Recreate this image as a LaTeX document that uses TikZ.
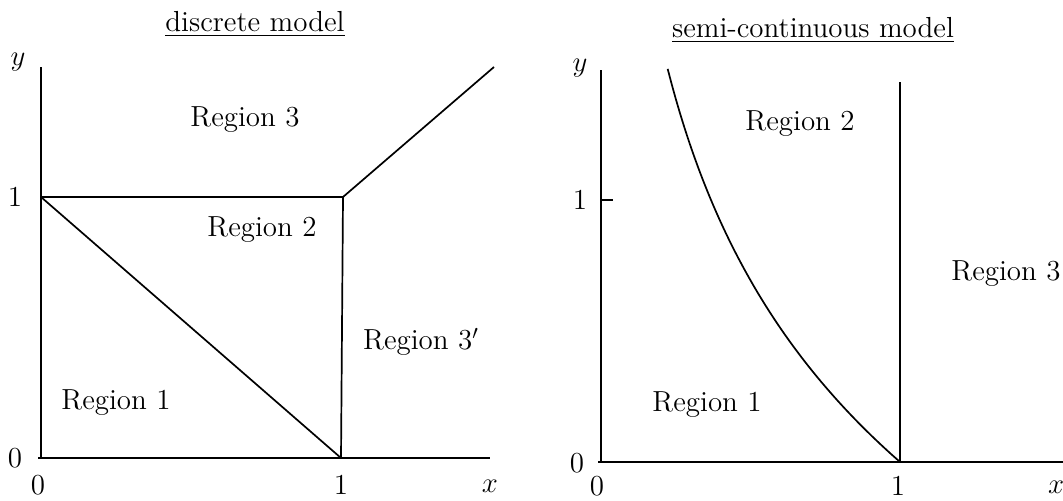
\documentclass[tikz,border=0pt]{standalone}
\usepackage{tikz}
\usetikzlibrary{positioning}
\tikzset{
  regionlbl/.style = {font=\fontsize{14.5}{17}\selectfont, inner sep=1pt},
  ticklbl/.style   = {font=\fontsize{14.5}{17}\selectfont, inner sep=1pt},
  titlelbl/.style  = {font=\fontsize{14.5}{17}\selectfont, inner sep=1pt},
  axisline/.style  = {draw=black, line width=1pt},
  boundary/.style  = {draw=black, line width=0.85pt},
}
\begin{document}
\begin{tikzpicture}[x=0.5pt,y=-0.5pt]
  \useasboundingbox (0,0) rectangle (1063,501);

  % discrete model
  \coordinate (dO)   at (41,458);
  \coordinate (dYt)  at (41,67);
  \coordinate (dXl)  at (38,458);
  \coordinate (dXr)  at (490,458);
  \coordinate (dA)   at (41,197);
  \coordinate (dB)   at (343,197);
  \coordinate (dC)   at (341,458);
  \coordinate (dD)   at (494,67);
  \draw[axisline] (dO) -- (dYt);
  \draw[axisline] (dXl) -- (dXr);
  \draw[boundary] (dA) -- (dB) -- (dC);
  \draw[boundary] (dA) -- (dC);
  \draw[boundary] (dB) -- (dD);

  \node[titlelbl] (dtitle) at (255,24) {\underline{discrete model}};
  \node[ticklbl] (dy)   at (18,62)  {$y$};
  \node[ticklbl] (dy1)  at (15,197) {1};
  \node[ticklbl] (dy0)  at (15,458) {0};
  \node[ticklbl] (dx0)  at (38,485) {0};
  \node[ticklbl] (dx1)  at (341,485) {1};
  \node[ticklbl] (dx)   at (490,486) {$x$};
  \node[regionlbl] (dr3)  at (245,120) {Region 3};
  \node[regionlbl] (dr2)  at (262,230) {Region 2};
  \node[regionlbl] (dr3p) at (421,342) {Region 3$'$};
  \node[regionlbl] (dr1)  at (116,403) {Region 1};

  % semi-continuous model
  \coordinate (sO)   at (601,462);
  \coordinate (sYt)  at (601,70);
  \coordinate (sXl)  at (598,462);
  \coordinate (sXr)  at (1063,462);
  \coordinate (sT)   at (613,200);
  \coordinate (sY1)  at (601,200);
  \coordinate (sVt)  at (900,82);
  \coordinate (sVb)  at (900,462);
  \draw[axisline] (sO) -- (sYt);
  \draw[axisline] (sXl) -- (sXr);
  \draw[axisline] (sY1) -- (sT);
  \draw[boundary] (sVb) -- (sVt);
  \draw[boundary] plot[domain=0.223:1, samples=60, smooth] ({601+299*\x},{462+262*ln(\x)});

  \node[titlelbl] (stitle) at (813,30) {\underline{semi-continuous model}};
  \node[ticklbl] (sy)   at (580,68)  {$y$};
  \node[ticklbl] (sy1)  at (580,200) {1};
  \node[ticklbl] (sy0)  at (577,463) {0};
  \node[ticklbl] (sx0)  at (597,486) {0};
  \node[ticklbl] (sx1)  at (898,486) {1};
  \node[ticklbl] (sx)   at (1056,487) {$x$};
  \node[regionlbl] (sr2) at (800,124) {Region 2};
  \node[regionlbl, anchor=east] (sr3) at (1063,274) {Region 3};
  \node[regionlbl] (sr1) at (707,405) {Region 1};
\end{tikzpicture}
\end{document}
